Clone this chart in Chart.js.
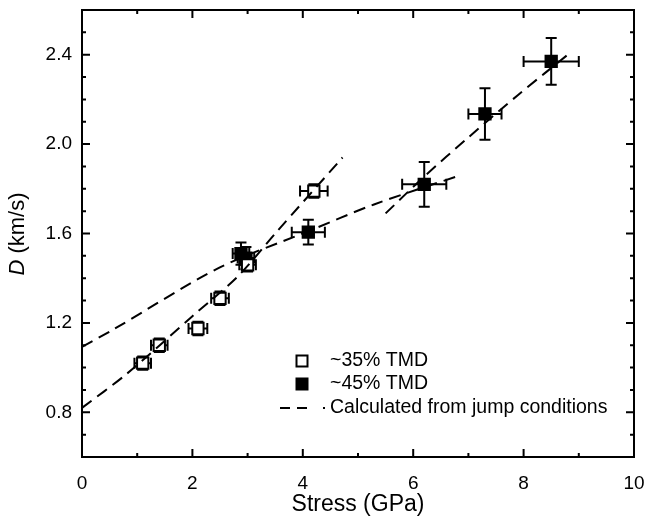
<!DOCTYPE html>
<html>
<head>
<meta charset="utf-8">
<script src="https://cdn.jsdelivr.net/npm/chart.js@4/dist/chart.umd.min.js"></script>
<style>
  body { margin: 0; background: #fff; }
  #wrap { width: 647px; height: 524px; }
</style>
</head>
<body>
<div id="wrap"><canvas id="myChart" width="647" height="524"></canvas></div>
<script>
// values
var stress35 = [1.1, 1.4, 2.1, 2.5, 3.0, 4.2];
var d35 = [1.02, 1.10, 1.175, 1.31, 1.46, 1.79];
var stressErr35 = [0.15, 0.15, 0.17, 0.16, 0.15, 0.25];
var dErr35 = [0.03, 0.03, 0.03, 0.03, 0.03, 0.03];

var stress45 = [2.88, 2.97, 4.1, 6.2, 7.3, 8.5];
var d45 = [1.51, 1.49, 1.606, 1.82, 2.135, 2.37];
var stressErr45 = [0.15, 0.15, 0.3, 0.4, 0.3, 0.5];
var dErr45 = [0.05, 0.05, 0.055, 0.1, 0.115, 0.105];

// dashed curves "calculated from jump conditions"
var fitAX = [0, 0.8, 2.0, 2.83, 3.5, 4.72];
var fitAY = [0.82, 0.97, 1.23, 1.41, 1.60, 1.94];
var fitBX = [0, 0.55, 2.48, 4.1, 5.29, 6.86];
var fitBY = [1.093, 1.168, 1.446, 1.61, 1.73, 1.861];
var fitCX = [5.5, 6.2, 7.0, 7.9, 8.85];
var fitCY = [1.69, 1.855, 2.03, 2.22, 2.41];

var legendLabels = ['~35% TMD', '~45% TMD', 'Calculated from jump conditions'];
var xTitle = 'Stress (GPa)';
var yTitleItalic = 'D';
var yTitleRest = ' (km/s)';

var FONT = 'Arial, "Liberation Sans", sans-serif';

function pts(xs, ys) {
    return xs.map(function (x, i) { return { x: x, y: ys[i] }; });
}

function fitSet(xs, ys) {
    return {
        type: 'line',
        data: pts(xs, ys),
        borderColor: '#000',
        borderWidth: 2,
        borderDash: [12, 7],
        pointRadius: 0,
        fill: false,
        tension: 0.3,
        order: 0
    };
}

// error bars, drawn under the markers
var errorBars = {
    id: 'errorBars',
    beforeDatasetsDraw: function (chart) {
        var ctx = chart.ctx, xs = chart.scales.x, ys = chart.scales.y;
        var groups = [
            [stress35, d35, stressErr35, dErr35],
            [stress45, d45, stressErr45, dErr45]
        ];
        ctx.save();
        ctx.strokeStyle = '#000';
        ctx.lineWidth = 2;
        groups.forEach(function (g) {
            g[0].forEach(function (sx, i) {
                var px = xs.getPixelForValue(sx), py = ys.getPixelForValue(g[1][i]);
                var x0 = xs.getPixelForValue(sx - g[2][i]), x1 = xs.getPixelForValue(sx + g[2][i]);
                var y0 = ys.getPixelForValue(g[1][i] - g[3][i]), y1 = ys.getPixelForValue(g[1][i] + g[3][i]);
                ctx.beginPath();
                ctx.moveTo(x0, py); ctx.lineTo(x1, py);
                ctx.moveTo(x0, py - 5.5); ctx.lineTo(x0, py + 5.5);
                ctx.moveTo(x1, py - 5.5); ctx.lineTo(x1, py + 5.5);
                ctx.moveTo(px, y0); ctx.lineTo(px, y1);
                ctx.moveTo(px - 5.5, y0); ctx.lineTo(px + 5.5, y0);
                ctx.moveTo(px - 5.5, y1); ctx.lineTo(px + 5.5, y1);
                ctx.stroke();
            });
        });
        ctx.restore();
    }
};

// frame, inward ticks, y title and legend
var decorations = {
    id: 'decorations',
    afterDraw: function (chart) {
        var ctx = chart.ctx, a = chart.chartArea, xs = chart.scales.x, ys = chart.scales.y;
        ctx.save();
        ctx.strokeStyle = '#000';
        ctx.lineWidth = 2;
        ctx.strokeRect(a.left, a.top, a.right - a.left, a.bottom - a.top);

        ctx.beginPath();
        xs.ticks.forEach(function (t) {
            var p = xs.getPixelForValue(t.value);
            var len = t.label !== '' ? 8 : 4;
            ctx.moveTo(p, a.bottom); ctx.lineTo(p, a.bottom - len);
            ctx.moveTo(p, a.top); ctx.lineTo(p, a.top + len);
        });
        ys.ticks.forEach(function (t) {
            var p = ys.getPixelForValue(t.value);
            var len = t.label !== '' ? 8 : 4;
            ctx.moveTo(a.left, p); ctx.lineTo(a.left + len, p);
            ctx.moveTo(a.right, p); ctx.lineTo(a.right - len, p);
        });
        ctx.stroke();

        // y axis title with italic D
        ctx.fillStyle = '#000';
        ctx.textBaseline = 'middle';
        ctx.translate(18, 234);
        ctx.rotate(-Math.PI / 2);
        ctx.font = 'italic 22px ' + FONT;
        var w1 = ctx.measureText(yTitleItalic).width;
        ctx.font = '22px ' + FONT;
        var w2 = ctx.measureText(yTitleRest).width;
        var start = -(w1 + w2) / 2;
        ctx.textAlign = 'left';
        ctx.font = 'italic 22px ' + FONT;
        ctx.fillText(yTitleItalic, start, 0);
        ctx.font = '22px ' + FONT;
        ctx.fillText(yTitleRest, start + w1, 0);
        ctx.restore();

        // legend
        ctx.save();
        var rows = [361, 384, 408];
        var side = 11;
        ctx.strokeStyle = '#000';
        ctx.fillStyle = '#fff';
        ctx.lineWidth = 2;
        ctx.fillRect(302 - side / 2, rows[0] - side / 2, side, side);
        ctx.strokeRect(302 - side / 2, rows[0] - side / 2, side, side);
        ctx.fillStyle = '#000';
        ctx.fillRect(302 - side / 2 - 1, rows[1] - side / 2 - 1, side + 2, side + 2);
        ctx.beginPath();
        ctx.setLineDash([10, 7, 10, 16, 2, 100]);
        ctx.moveTo(280, rows[2]); ctx.lineTo(325, rows[2]);
        ctx.stroke();
        ctx.setLineDash([]);
        ctx.font = '19.5px ' + FONT;
        ctx.textBaseline = 'middle';
        ctx.textAlign = 'left';
        legendLabels.forEach(function (txt, i) {
            ctx.fillText(txt, 330, rows[i]);
        });
        ctx.restore();
    }
};

var ctx = document.getElementById('myChart').getContext('2d');
var myChart = new Chart(ctx, {
    type: 'scatter',
    data: {
        datasets: [
            fitSet(fitAX, fitAY),
            fitSet(fitBX, fitBY),
            fitSet(fitCX, fitCY),
            {
                label: legendLabels[0],
                data: pts(stress35, d35),
                pointStyle: 'rect',
                pointRadius: 8,
                pointBorderWidth: 2,
                pointBackgroundColor: '#fff',
                pointBorderColor: '#000',
                order: 1
            },
            {
                label: legendLabels[1],
                data: pts(stress45, d45),
                pointStyle: 'rect',
                pointRadius: 8,
                pointBorderWidth: 2,
                pointBackgroundColor: '#000',
                pointBorderColor: '#000',
                order: 1
            }
        ]
    },
    options: {
        responsive: false,
        animation: false,
        layout: { padding: { top: 8, right: 13, left: 0, bottom: 0 } },
        plugins: {
            legend: { display: false },
            tooltip: { enabled: false }
        },
        scales: {
            x: {
                type: 'linear',
                min: 0,
                max: 10,
                afterFit: function (s) {
                    s.height = 67;
                    s.paddingLeft = 0; s.paddingRight = 0;
                },
                grid: { display: false, drawTicks: false },
                border: { display: false },
                ticks: {
                    stepSize: 1,
                    padding: 15,
                    color: '#000',
                    font: { family: FONT, size: 19 },
                    maxRotation: 0,
                    autoSkip: false,
                    callback: function (v) { return Math.round(v) % 2 === 0 ? String(Math.round(v)) : ''; }
                },
                title: {
                    display: true,
                    text: xTitle,
                    color: '#000',
                    font: { family: FONT, size: 23 },
                    padding: { top: 0, bottom: 6 }
                }
            },
            y: {
                type: 'linear',
                min: 0.6,
                max: 2.6,
                afterFit: function (s) {
                    s.width = 82;
                    s.paddingTop = 0; s.paddingBottom = 0;
                },
                grid: { display: false, drawTicks: false },
                border: { display: false },
                ticks: {
                    stepSize: 0.1,
                    padding: 10,
                    color: '#000',
                    font: { family: FONT, size: 19 },
                    autoSkip: false,
                    callback: function (v) {
                        var k = (v - 0.8) / 0.4;
                        return (v > 0.7 && Math.abs(k - Math.round(k)) < 1e-6) ? v.toFixed(1) : '';
                    }
                }
            }
        }
    },
    plugins: [errorBars, decorations]
});
</script>
</body>
</html>
